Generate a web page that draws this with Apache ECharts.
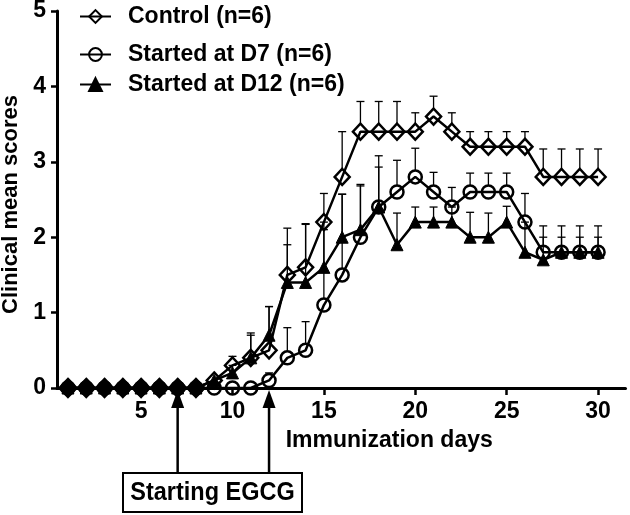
<!DOCTYPE html>
<html>
<head>
<meta charset="utf-8">
<script src="https://cdn.jsdelivr.net/npm/echarts@6/dist/echarts.min.js"></script>
<style>
html,body{margin:0;padding:0;background:#fff;}
#c{width:630px;height:515px;}
</style>
</head>
<body>
<div id="c"></div>
<script>
const days = [1,2,3,4,5,6,7,8,9,10,11,12,13,14,15,16,17,18,19,20,21,22,23,24,25,26,27,28,29,30];
const controlMean = [0,0,0,0,0,0,0,0,0.1,0.3,0.4,0.5,1.5,1.6,2.2,2.8,3.4,3.4,3.4,3.4,3.6,3.4,3.2,3.2,3.2,3.2,2.8,2.8,2.8,2.8];
const controlErr  = [0,0,0,0,0,0,0,0,0.1,0.12,0.33,0.58,0.62,0.58,0.38,0.6,0.4,0.4,0.4,0.25,0.27,0.25,0.2,0.2,0.2,0.2,0.37,0.37,0.37,0.37];
const d7Mean = [0,0,0,0,0,0,0,0,0,0,0,0.1,0.4,0.5,1.1,1.5,2.0,2.4,2.6,2.8,2.6,2.4,2.6,2.6,2.6,2.2,1.8,1.8,1.8,1.8];
const d7Err  = [0,0,0,0,0,0,0,0,0,0,0,0.1,0.4,0.38,1.0,1.07,0.7,0.68,0.42,0.38,0.26,0.26,0.25,0.25,0.25,0.38,0.35,0.35,0.35,0.35];
const d12Mean = [0,0,0,0,0,0,0,0,0.1,0.2,0.4,0.7,1.4,1.4,1.6,2.0,2.1,2.4,1.9,2.2,2.2,2.2,2.0,2.0,2.2,1.8,1.7,1.8,1.8,1.8];
const d12Err  = [0,0,0,0,0,0,0,0,0.05,0.1,0.3,0.38,0.5,0.77,0.6,0.57,0.58,0.53,0.42,0.2,0.2,0.2,0.33,0.32,0.21,0.4,0.3,0.2,0.2,0.2];
const seriesNames = ['Control (n=6)','Started at D7 (n=6)','Started at D12 (n=6)'];
const xTickValues = [5,10,15,20,25,30];
const egcgDays = [7,12];
const annotationText = 'Starting EGCG';

const FONT = '"Liberation Sans", Arial, sans-serif';
const chart = echarts.init(document.getElementById('c'), null, {renderer:'canvas'});

function pairs(m){ return days.map((d,i)=>[d,m[i]]); }
function triples(m,e){ return days.map((d,i)=>[d,m[i],e[i]]); }
// where all groups overlap at zero the stacked markers read as a solid diamond
function controlData(){
  return days.map((d,i)=>{
    const allZero = controlMean[i]===0 && d7Mean[i]===0 && d12Mean[i]===0;
    return allZero ? {value:[d,controlMean[i]], symbolSize:[17,18], itemStyle:{color:'#000'}} : [d,controlMean[i]];
  });
}

function errSeries(m,e,offset){
  return {
    type:'custom', z:1, silent:true,
    data: triples(m,e),
    renderItem:function(params, api){
      const x=api.value(0), mv=api.value(1), ev=api.value(2);
      if(!(ev>0)) return;
      const p0=api.coord([x,mv]), p1=api.coord([x,mv+ev]);
      const sy=p0[1]-offset;
      if(p1[1]>=sy) return;
      return {type:'group', children:[
        {type:'line', shape:{x1:p0[0],y1:sy,x2:p0[0],y2:p1[1]}, style:{stroke:'#000',lineWidth:1.3}},
        {type:'line', shape:{x1:p0[0]-4,y1:p1[1],x2:p0[0]+4,y2:p1[1]}, style:{stroke:'#000',lineWidth:1.3}}
      ]};
    }
  };
}

const lineCommon = {type:'line', z:3, lineStyle:{color:'#000',width:2.5}, emphasis:{disabled:true}};
const legendText = {fontFamily:FONT,fontWeight:'bold',fontSize:23,color:'#000',padding:[0,0,0,12]};
function legendAt(name, top){
  return {data:[name], left:79, top:top, padding:0, itemWidth:31, itemHeight:16, selectedMode:false, textStyle:legendText};
}

chart.setOption({
  animation:false,
  backgroundColor:'#fff',
  grid:{left:57,right:4.5,top:11,bottom:127,containLabel:false,outerBoundsMode:'none'},
  legend:[legendAt(seriesNames[0],5), legendAt(seriesNames[1],43), legendAt(seriesNames[2],73)],
  xAxis:{
    type:'value', min:0.4, max:31.5,
    name:'Immunization days', nameLocation:'middle', nameGap:41,
    nameTextStyle:{fontFamily:FONT,fontWeight:'bold',fontSize:23,color:'#000',padding:[0,0,0,96]},
    axisLine:{onZero:false,lineStyle:{color:'#000',width:3}},
    axisTick:{customValues:xTickValues,length:7,lineStyle:{color:'#000',width:2.5}},
    axisLabel:{customValues:xTickValues,margin:12,fontFamily:FONT,fontWeight:'bold',fontSize:23,color:'#000'},
    splitLine:{show:false}
  },
  yAxis:{
    type:'value', min:0, max:5, interval:1,
    name:'Clinical mean scores', nameLocation:'middle', nameGap:33, nameRotate:90,
    nameTextStyle:{fontFamily:FONT,fontWeight:'bold',fontSize:22,color:'#000',padding:[0,10,0,0]},
    axisLine:{show:true,lineStyle:{color:'#000',width:3}},
    axisTick:{show:true,length:6,lineStyle:{color:'#000',width:2.5}},
    axisLabel:{margin:11,fontFamily:FONT,fontWeight:'bold',fontSize:23,color:'#000'},
    splitLine:{show:false}
  },
  series:[
    errSeries(controlMean,controlErr,8),
    errSeries(d7Mean,d7Err,7),
    errSeries(d12Mean,d12Err,5),
    Object.assign({}, lineCommon, {name:seriesNames[0], data:controlData(), symbol:'diamond', symbolSize:[15,16],
      itemStyle:{color:'rgba(255,255,255,0)',borderColor:'#000',borderWidth:2.5}}),
    Object.assign({}, lineCommon, {name:seriesNames[1], data:pairs(d7Mean), symbol:'circle', symbolSize:13,
      itemStyle:{color:'rgba(255,255,255,0)',borderColor:'#000',borderWidth:2.5}}),
    Object.assign({}, lineCommon, {name:seriesNames[2], data:pairs(d12Mean), symbol:'triangle', symbolSize:12,
      itemStyle:{color:'#000',borderColor:'#000',borderWidth:1}})
  ]
});

// annotation arrows pointing at the start days
const axisY = chart.convertToPixel({yAxisIndex:0}, 0);
const boxTop = 473, boxBottom = 512;
const gfx = [];
egcgDays.forEach(function(d){
  const px = chart.convertToPixel({xAxisIndex:0}, d);
  const tip = axisY + 2, base = tip + 18;
  gfx.push({type:'polygon', shape:{points:[[px,tip],[px-6.5,base],[px+6.5,base]]}, style:{fill:'#000'}});
  gfx.push({type:'line', shape:{x1:px,y1:base-1,x2:px,y2:boxTop}, style:{stroke:'#000',lineWidth:2.5}});
});
gfx.push({type:'rect', shape:{x:123,y:boxTop,width:179,height:boxBottom-boxTop}, style:{fill:'#fff',stroke:'#000',lineWidth:2}});
gfx.push({type:'text', x:212.5, y:(boxTop+boxBottom)/2, scaleY:1.1, style:{text:annotationText, fontFamily:FONT, fontWeight:'bold', fontSize:23.5, fill:'#000', align:'center', verticalAlign:'middle'}});
chart.setOption({graphic:gfx});
</script>
</body>
</html>
